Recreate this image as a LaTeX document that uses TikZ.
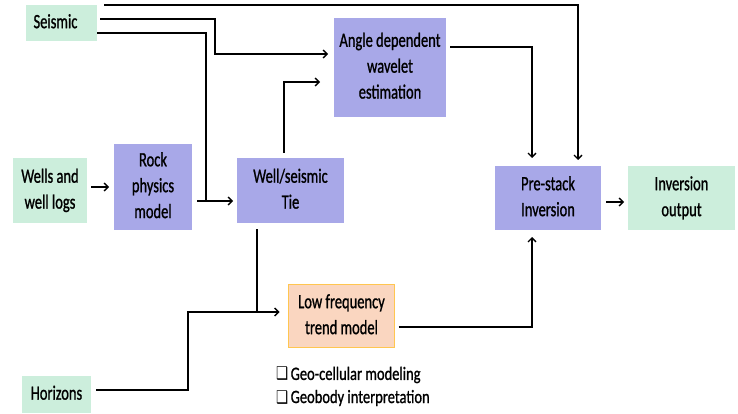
\documentclass[tikz,border=0pt]{standalone}
\usepackage{fontspec}
\setmainfont{Carlito}
\newfontfamily\lblfont{Carlito}[FakeBold=1.2]
\newfontfamily\symfont{DejaVu Sans}
\usetikzlibrary{arrows.meta,calc}
\definecolor{mint}{RGB}{204,238,220}
\definecolor{lav}{RGB}{168,168,232}
\definecolor{peach}{RGB}{250,214,192}
\definecolor{peachline}{RGB}{255,198,80}
\newcommand\lbl[1]{\scalebox{1}[1.4]{\lblfont\fontsize{14.5}{18.5}\selectfont\begin{tabular}{@{}c@{}}#1\end{tabular}}}
\newcommand\bul{{\symfont\fontsize{13.5}{13.5}\selectfont ❑}}
\tikzset{
  box/.style={inner sep=0pt, outer sep=0pt, draw=none},
  greenbox/.style={box, fill=mint},
  purplebox/.style={box, fill=lav},
  orangebox/.style={box, fill=peach, draw=peachline, line width=1pt},
  arr/.style={line width=1.3pt, -{Straight Barb[length=4pt,width=8pt,line width=1.3pt]}},
  ln/.style={line width=1.3pt}
}
\begin{document}
\begin{tikzpicture}[x=1pt,y=-1pt]
\useasboundingbox (0,0) rectangle (738,414);
% nodes
\node[greenbox, minimum width=71pt, minimum height=36pt] (seis) at (61.5,23) {\lbl{Seismic\hspace*{12pt}}};
\node[greenbox, minimum width=74pt, minimum height=65pt] (wells) at (50,190.5) {\lbl{Wells and\\well logs}};
\node[purplebox, minimum width=78pt, minimum height=86pt] (rock) at (153,187) {\lbl{Rock\\physics\\model}};
\node[purplebox, minimum width=107pt, minimum height=65pt] (tie) at (290.5,190.5) {\lbl{Well/seismic\\Tie}};
\node[purplebox, minimum width=112pt, minimum height=99pt] (angle) at (390,67.5) {\raisebox{8pt}{\lbl{Angle dependent\\wavelet\\estimation}}};
\node[purplebox, minimum width=106pt, minimum height=64pt] (pre) at (548,198) {\lbl{Pre-stack\\Inversion}};
\node[greenbox, minimum width=107pt, minimum height=64pt] (out) at (681.5,198) {\lbl{Inversion\\output}};
\node[orangebox, minimum width=106pt, minimum height=63pt] (low) at (341.5,316) {\lbl{Low frequency\\trend model}};
\node[greenbox, minimum width=69pt, minimum height=37pt] (hor) at (56.5,394.5) {\lbl{Horizons}};
\node[anchor=west, inner sep=0pt] (b1) at (276,375) {\scalebox{1}[1.3]{\bul\lblfont\fontsize{14.5}{18}\selectfont\,Geo-cellular modeling}};
\node[anchor=west, inner sep=0pt] (b2) at (276,398) {\scalebox{1}[1.3]{\bul\lblfont\fontsize{14.5}{18}\selectfont\,Geobody interpretation}};
% connectors
\draw[arr, shorten >=6pt] ([xshift=7pt]seis.north east) -| ([xshift=30pt]pre.north);
\draw[arr, shorten >=6pt] ([xshift=3pt,yshift=4pt]seis.east) -- (215,19) |- ([yshift=13.5pt]angle.west);
\draw[arr, shorten >=4pt] ([yshift=-10pt]seis.east) -- (206,33) |- ([yshift=-10.5pt]tie.west);
\draw[ln] ([xshift=5pt,yshift=-14pt]rock.east) -- (206,201);
\draw[arr, shorten >=5pt] ([xshift=4pt,yshift=3.5pt]wells.east) -- (rock.west);
\draw[arr, shorten >=14pt] ([xshift=-6.5pt,yshift=5pt]tie.north) |- ([yshift=-14.5pt]angle.west);
\draw[arr, shorten >=8pt] ([xshift=4pt,yshift=20.5pt]angle.east) -| ([xshift=-16pt]pre.north);
\draw[arr, shorten >=4pt] ([xshift=5pt,yshift=-4pt]pre.east) -- ([yshift=-4pt]out.west);
\coordinate (j) at (257,312);
\draw[ln] ([xshift=-33.5pt,yshift=-6pt]tie.south) -- (j);
\draw[ln] ([xshift=5pt,yshift=4.5pt]hor.east) -- (188,390) |- (j);
\draw[arr, shorten >=9pt] (j) -- ([yshift=4pt]low.west);
\draw[arr, shorten >=7pt] ([xshift=4pt,yshift=-11pt]low.east) -| ([xshift=-16pt]pre.south);
\end{tikzpicture}
\end{document}
